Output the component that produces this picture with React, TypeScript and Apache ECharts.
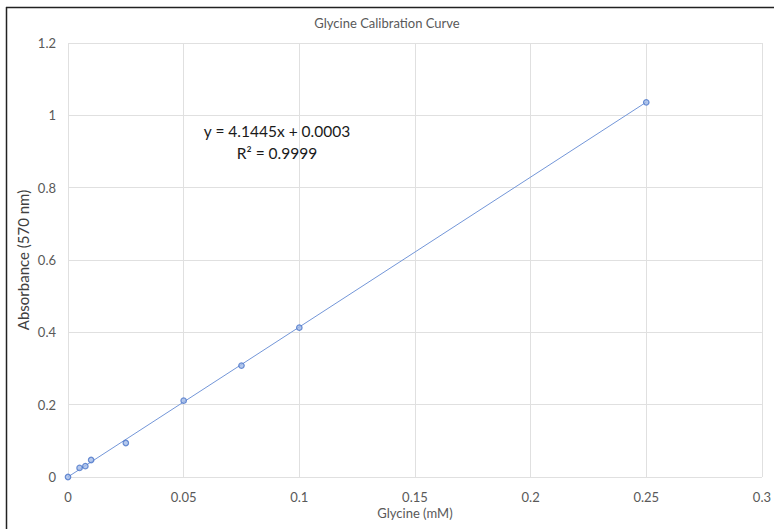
import React, { useEffect, useRef } from "react";
import * as echarts from "echarts";

const glycine = [0, 0.005, 0.0075, 0.01, 0.025, 0.05, 0.075, 0.1, 0.25];
const absorbance = [0, 0.025, 0.03, 0.047, 0.094, 0.211, 0.308, 0.413, 1.036];
const slope = 4.1445;
const intercept = 0.0003;
const trendRange = [0, 0.25];
const equationText = "y = 4.1445x + 0.0003";
const r2Text = "R² = 0.9999";

export default function App() {
  const ref = useRef<HTMLDivElement>(null);
  useEffect(() => {
    if (!ref.current) return;
    const chart = echarts.init(ref.current, null, { renderer: "svg" });
    const font = "Lato, 'Open Sans', sans-serif";
    const gray = "#595959";
    chart.setOption({
      animation: false,
      backgroundColor: "#ffffff",
      textStyle: { fontFamily: font },
      title: {
        text: "Glycine Calibration Curve",
        left: "center",
        top: 11,
        textStyle: { fontFamily: font, fontSize: 13, fontWeight: "normal", color: gray },
      },
      grid: { left: 68, right: 11, top: 43, bottom: 52 },
      xAxis: {
        type: "value",
        min: 0,
        max: 0.3,
        interval: 0.05,
        name: "Glycine (mM)",
        nameLocation: "middle",
        nameGap: 29,
        nameMoveOverlap: false,
        nameTextStyle: { fontFamily: font, fontSize: 13, color: gray },
        axisLine: { show: false },
        axisTick: { show: false },
        axisLabel: {
          fontFamily: font,
          fontSize: 13,
          color: gray,
          margin: 13,
          formatter: (v: number) => String(Number(v.toFixed(4))),
        },
        splitLine: { show: true, lineStyle: { color: "#e0e0e0", width: 1 } },
      },
      yAxis: {
        type: "value",
        min: 0,
        max: 1.2,
        interval: 0.2,
        name: "Absorbance (570 nm)",
        nameLocation: "middle",
        nameGap: 38,
        nameMoveOverlap: false,
        nameRotate: 90,
        nameTextStyle: { fontFamily: font, fontSize: 15, color: "#404040" },
        axisLine: { show: false },
        axisTick: { show: false },
        axisLabel: {
          fontFamily: font,
          fontSize: 13,
          color: gray,
          margin: 12,
          formatter: (v: number) => String(Number(v.toFixed(4))),
        },
        splitLine: { show: true, lineStyle: { color: "#e0e0e0", width: 1 } },
      },
      series: [
        {
          type: "line",
          name: "Trendline",
          data: trendRange.map((x) => [x, slope * x + intercept]),
          showSymbol: false,
          symbol: "none",
          lineStyle: { color: "#7396d8", width: 1 },
          silent: true,
          z: 2,
        },
        {
          type: "scatter",
          name: "Glycine",
          data: glycine.map((x, i) => [x, absorbance[i]]),
          symbol: "circle",
          symbolSize: 5.5,
          itemStyle: { color: "#a3bbe8", borderColor: "#4a74c8", borderWidth: 1.2 },
          z: 3,
        },
      ],
      graphic: [
        {
          type: "text",
          x: 277,
          y: 131,
          style: {
            text: equationText,
            fontFamily: font,
            fontSize: 15.5,
            fill: "#1a1a1a",
            textAlign: "center",
            textVerticalAlign: "middle",
          },
        },
        {
          type: "text",
          x: 277,
          y: 153,
          style: {
            text: r2Text,
            fontFamily: font,
            fontSize: 15.5,
            fill: "#1a1a1a",
            textAlign: "center",
            textVerticalAlign: "middle",
          },
        },
        {
          type: "line",
          shape: { x1: 6, y1: 7.5, x2: 774, y2: 7.5 },
          style: { stroke: "#222222", lineWidth: 1.5 },
        },
        {
          type: "line",
          shape: { x1: 6.5, y1: 7, x2: 6.5, y2: 529 },
          style: { stroke: "#222222", lineWidth: 1.5 },
        },
      ],
    });
    return () => chart.dispose();
  }, []);
  return (
    <div
      ref={ref}
      style={{ position: "fixed", left: 0, top: 0, width: 774, height: 529 }}
    />
  );
}
